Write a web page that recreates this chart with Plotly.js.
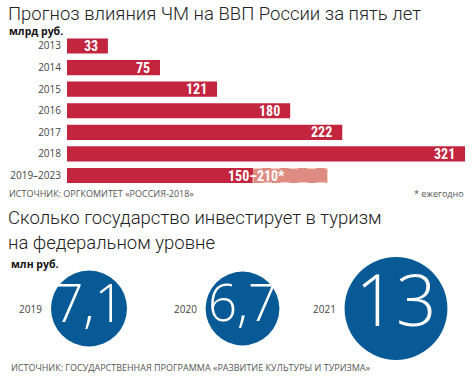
<!DOCTYPE html>
<html><head><meta charset="utf-8">
<script src="https://cdn.plot.ly/plotly-3.0.1.min.js"></script>
<style>html,body{margin:0;padding:0;background:#fff}#chart{width:472px;height:380px}</style>
</head><body><div id="chart"></div>
<script>
// ---- data ----
const barYears = ['2013', '2014', '2015', '2016', '2017', '2018', '2019–2023'];
const barValues = [33, 75, 121, 180, 222, 321, 150];
const barLabels = ['33', '75', '121', '180', '222', '321', '150–210*'];
const rangeLow = 150;
const rangeHigh = 210;
const circleYears = ['2019', '2020', '2021'];
const circleValues = [7.1, 6.7, 13];
const circleLabels = ['7,1', '6,7', '13'];

// ---- style ----
const RED = '#c3253f';
const PINK = '#de8b81';
const BLUE = '#075a95';
const SANS = 'Open Sans, Lato, sans-serif';
const TITLE = 'Roboto, Open Sans, sans-serif';
const NARROW = 'Liberation Sans Narrow, Roboto Condensed, Arial Narrow, Roboto, sans-serif';
const sizeref = 7.1 / (2 * 38 * 38);
const radius = v => Math.sqrt(v / (2 * sizeref));
const lastIdx = barYears.length - 1;
const barW = 0.7;

const traces = [
  {
    type: 'bar', orientation: 'h', x: barValues, y: barYears,
    marker: {color: RED}, width: barW, hoverinfo: 'skip',
    xaxis: 'x', yaxis: 'y'
  },
  {
    type: 'bar', orientation: 'h', x: [rangeHigh - rangeLow], base: [rangeLow], y: [barYears[lastIdx]],
    marker: {color: PINK}, width: barW, hoverinfo: 'skip',
    xaxis: 'x', yaxis: 'y'
  },
  {
    type: 'scatter', mode: 'markers', x: circleYears, y: circleYears.map(() => 0),
    marker: {color: BLUE, opacity: 1, size: circleValues, sizemode: 'area', sizeref: sizeref, line: {width: 0}},
    cliponaxis: false, hoverinfo: 'skip', xaxis: 'x2', yaxis: 'y2'
  },
  {
    type: 'scatter', mode: 'text', x: circleYears, y: circleYears.map(() => 0),
    text: circleLabels, textposition: 'middle center',
    textfont: {family: SANS, weight: 300, color: '#ffffff', size: circleValues.map(v => radius(v) * 1.38)},
    cliponaxis: false, hoverinfo: 'skip', xaxis: 'x2', yaxis: 'y2'
  }
];

const ann = [];
const addText = (text, x, yTop, opts) => ann.push(Object.assign({
  text: text, xref: 'paper', yref: 'paper', x: x / 472, y: 1 - yTop / 380,
  xanchor: 'left', yanchor: 'middle', showarrow: false,
  font: {family: SANS, size: 10, color: '#333'}
}, opts || {}));

const titleFont = () => ({family: TITLE, size: 18.5, weight: 300, color: '#222'});
addText('Прогноз влияния ЧМ на ВВП России за пять лет', 6, 14, {font: titleFont()});
addText('<b>млрд руб.</b>', 7, 31, {font: {family: SANS, size: 10.5, color: '#111'}});
addText('ИСТОЧНИК: ОРГКОМИТЕТ «РОССИЯ-2018»', 7, 193, {font: {family: SANS, size: 9, color: '#555'}});
addText('* ежегодно', 466, 193, {xanchor: 'right', font: {family: SANS, size: 9, color: '#555'}});
addText('Сколько государство инвестирует в туризм', 6, 218, {font: titleFont()});
addText('на федеральном уровне', 6, 243, {font: titleFont()});
addText('<b>млн руб.</b>', 9, 264, {font: {family: SANS, size: 10.5, color: '#111'}});
addText('ИСТОЧНИК: ГОСУДАРСТВЕННАЯ ПРОГРАММА «РАЗВИТИЕ КУЛЬТУРЫ И ТУРИЗМА»', 9, 367, {font: {family: SANS, size: 9, color: '#555'}});

barYears.forEach((yr, i) => {
  const last = i === lastIdx;
  ann.push({
    xref: 'x', yref: 'y', x: barValues[i], y: i, text: '<b>' + barLabels[i] + '</b>',
    xanchor: last ? 'center' : 'right', xshift: last ? 3 : -8, yanchor: 'middle', showarrow: false,
    font: {family: NARROW, size: 14, color: '#ffffff'}
  });
});

circleYears.forEach((yr, i) => {
  ann.push({
    xref: 'x2', yref: 'y2', x: i, y: 0, text: yr, xanchor: 'right', yanchor: 'middle',
    xshift: -(radius(circleValues[i]) + 7), showarrow: false,
    font: {family: SANS, size: 10, color: '#444'}
  });
});

const shapes = [{
  type: 'rect', xref: 'x', yref: 'y', x0: rangeLow, x1: rangeHigh,
  y0: lastIdx - barW / 2 + 0.03, y1: lastIdx + barW / 2 - 0.03,
  line: {color: '#f6d2cc', width: 1, dash: 'dash'}, fillcolor: 'rgba(0,0,0,0)'
}];

const layout = {
  width: 472, height: 380, margin: {l: 0, r: 0, t: 0, b: 0},
  paper_bgcolor: '#ffffff', plot_bgcolor: 'rgba(0,0,0,0)',
  showlegend: false, barmode: 'overlay', font: {family: SANS},
  xaxis: {domain: [67 / 472, 1], range: [0, 405 / 1.24], visible: false, fixedrange: true},
  yaxis: {domain: [1 - 186.3 / 380, 1 - 35.2 / 380], type: 'category', range: [6.5, -0.5],
    showgrid: false, zeroline: false, showline: false, ticks: '', ticklabelstandoff: 5,
    tickfont: {family: SANS, size: 10, color: '#444'}, fixedrange: true},
  xaxis2: {domain: [12.25 / 472, 457.4 / 472], type: 'category', range: [-0.5, 2.4], visible: false},
  yaxis2: {domain: [1 - 308.5 / 380 - 0.1, 1 - 308.5 / 380 + 0.1], range: [-1, 1], visible: false},
  annotations: ann, shapes: shapes
};

Plotly.newPlot('chart', traces, layout, {displayModeBar: false, staticPlot: true});
</script>
</body></html>
